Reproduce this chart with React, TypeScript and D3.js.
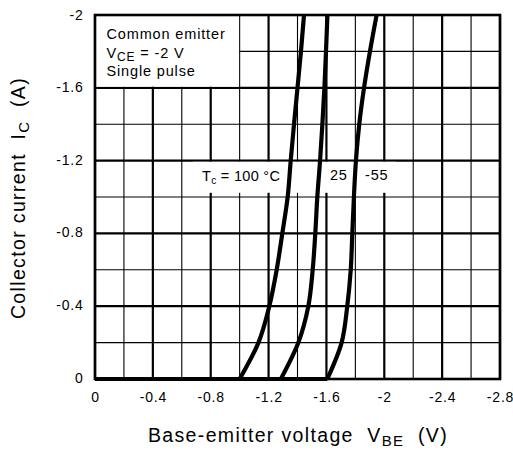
import React from "react";
import * as d3 from "d3";

const W = 513;
const H = 450;

// current axis points (A)
const currentLevels = [0, -0.2, -0.4, -0.6, -0.8, -1.0, -1.2, -1.4, -1.6, -1.8, -2.0];
// V_BE at those currents for each case temperature
const vbe100 = [-1.0, -1.13, -1.205, -1.256, -1.295, -1.332, -1.353, -1.376, -1.4, -1.424, -1.445];
const vbe25 = [-1.285, -1.406, -1.475, -1.505, -1.523, -1.537, -1.556, -1.572, -1.586, -1.597, -1.607];
const vbeM55 = [-1.606, -1.705, -1.744, -1.768, -1.779, -1.79, -1.804, -1.827, -1.86, -1.901, -1.947];

const xTicks = [0, -0.4, -0.8, -1.2, -1.6, -2, -2.4, -2.8];
const yTicks = [0, -0.4, -0.8, -1.2, -1.6, -2];
const xGrid = d3.range(0, 15).map((i) => -i * 0.2);
const yGrid = d3.range(0, 11).map((i) => -i * 0.2);

const FONT = "'Liberation Sans', Arial, sans-serif";

export default function App() {
  const left = 95, right = 500, top = 15, bottom = 379;
  const x = d3.scaleLinear().domain([0, -2.8]).range([left, right]);
  const y = d3.scaleLinear().domain([0, -2]).range([bottom, top]);

  const curves = [vbe100, vbe25, vbeM55];
  const line = d3
    .line<[number, number]>()
    .x((d) => x(d[0]))
    .y((d) => y(d[1]))
    .curve(d3.curveMonotoneY);

  const isMajor = (v: number) => Math.abs(Math.round(v * 10) % 4) === 0;

  return (
    <svg
      width={W}
      height={H}
      style={{ position: "absolute", left: 0, top: 0, background: "#fff" }}
      fontFamily={FONT}
    >
      <rect x={0} y={0} width={W} height={H} fill="#fff" />
      {/* grid */}
      {xGrid.map((v, i) => (
        <line
          key={"gx" + i}
          x1={x(v)}
          x2={x(v)}
          y1={top}
          y2={bottom}
          stroke="#000"
          strokeWidth={isMajor(v) ? 2.2 : 1.1}
        />
      ))}
      {yGrid.map((v, i) => (
        <line
          key={"gy" + i}
          x1={left}
          x2={right}
          y1={y(v)}
          y2={y(v)}
          stroke="#000"
          strokeWidth={isMajor(v) ? 2.2 : 1.1}
        />
      ))}
      {/* legend box background */}
      <rect
        x={x(0) + 1}
        y={y(-2) + 1}
        width={x(-1.0) - x(0) - 1.6}
        height={y(-1.6) - y(-2) - 2.1}
        fill="#fff"
      />
      {/* label band background */}
      <rect x={193} y={y(-1.2) + 1.2} width={203} height={31} fill="#fff" />
      {/* frame */}
      <rect
        x={left}
        y={top}
        width={right - left}
        height={bottom - top}
        fill="none"
        stroke="#000"
        strokeWidth={2.6}
      />
      {/* curves */}
      {curves.map((c, i) => {
        const pts: [number, number][] = c.map((v, j) => [v, currentLevels[j]]);
        return (
          <g key={"c" + i}>
            <line
              x1={x(0)}
              x2={x(c[0])}
              y1={y(0)}
              y2={y(0)}
              stroke="#000"
              strokeWidth={4.2}
            />
            <path
              d={line(pts) || ""}
              fill="none"
              stroke="#000"
              strokeWidth={4.2}
              strokeLinejoin="round"
            />
          </g>
        );
      })}
      {/* curve labels */}
      <text x={202} y={181} fontSize={14.5} letterSpacing={0.3} fill="#000">
        T
        <tspan fontSize={10} dy={3}>c</tspan>
        <tspan dy={-3}> = 100 °C</tspan>
      </text>
      <text x={330} y={180} fontSize={14.5} letterSpacing={0.8} fill="#000">25</text>
      <text x={365} y={180} fontSize={14.5} letterSpacing={0.8} fill="#000">-55</text>
      {/* legend text */}
      <g fontSize={14.5} letterSpacing={0.85} fill="#000">
        <text x={106.5} y={39}>Common emitter</text>
        <text x={106.5} y={58}>
          V<tspan fontSize={12} dy={3}>CE</tspan>
          <tspan dy={-3}> = -2 V</tspan>
        </text>
        <text x={106.5} y={76}>Single pulse</text>
      </g>
      {/* y ticks */}
      {yTicks.map((v, i) => (
        <text
          key={"yt" + i}
          x={83.5}
          y={y(v) + (i === yTicks.length - 1 ? 5 : 4)}
          fontSize={14}
          letterSpacing={0.8}
          textAnchor="end"
          fill="#000"
        >
          {v === 0 ? "0" : String(v)}
        </text>
      ))}
      {/* x ticks */}
      {xTicks.map((v, i) => (
        <text
          key={"xt" + i}
          x={x(v) + 0.5}
          y={402}
          fontSize={14}
          letterSpacing={0.8}
          textAnchor="middle"
          fill="#000"
        >
          {v === 0 ? "0" : String(v)}
        </text>
      ))}
      {/* axis titles */}
      <text
        x={298}
        y={442}
        fontSize={19.5}
        letterSpacing={1.35}
        textAnchor="middle"
        fill="#000"
      >
        Base-emitter voltage{"\u00a0\u00a0"}V
        <tspan fontSize={15} dy={4}>BE</tspan>
        <tspan dy={-4}>{"\u00a0\u00a0"}(V)</tspan>
      </text>
      <text
        transform={`translate(24.5,198) rotate(-90)`}
        fontSize={19.5}
        letterSpacing={1.35}
        textAnchor="middle"
        fill="#000"
      >
        Collector current{"\u00a0\u00a0"}I
        <tspan fontSize={15} dy={4}>C</tspan>
        <tspan dy={-4}>{"\u00a0\u00a0"}(A)</tspan>
      </text>
    </svg>
  );
}
